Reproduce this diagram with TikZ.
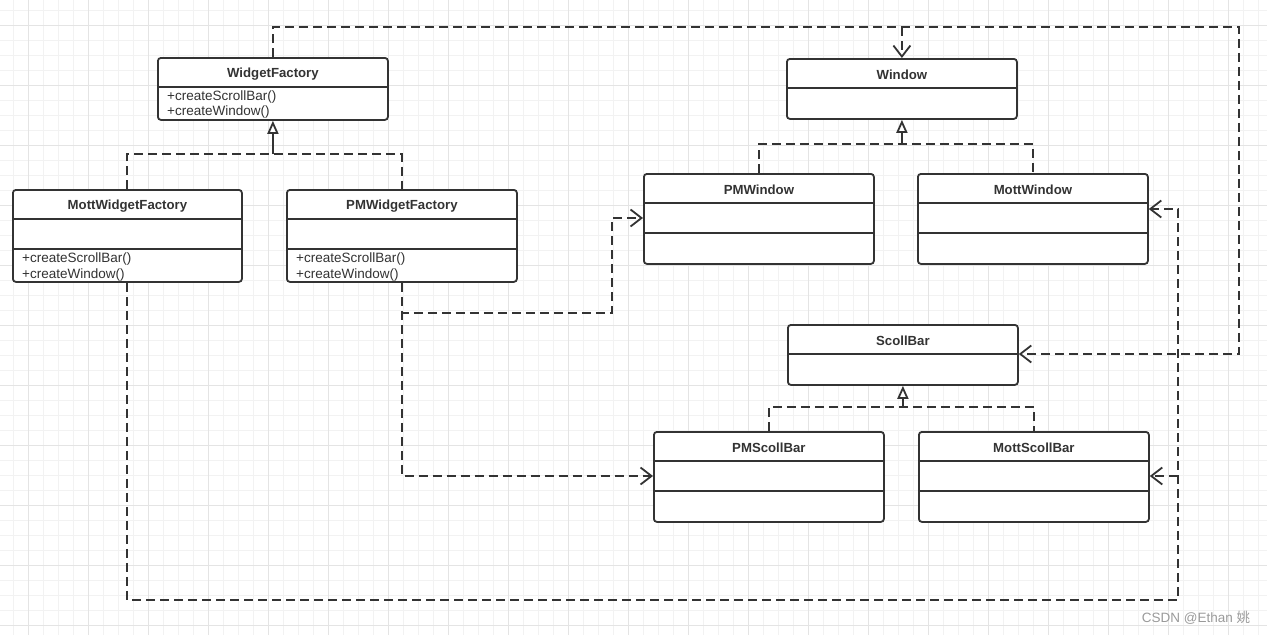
\documentclass[tikz,border=0pt]{standalone}
\usepackage{fontspec}
\setmainfont{Liberation Sans}
\newfontfamily\cjkfont{Noto Sans CJK SC}
\usetikzlibrary{arrows.meta,calc}
\definecolor{ink}{HTML}{333333}
\definecolor{gridminor}{HTML}{F2F2F2}
\definecolor{gridmajor}{HTML}{E4E4E4}
\definecolor{wm}{HTML}{9A9A9A}
\tikzset{
  cls/.style={draw=ink, line width=1.8pt, rounded corners=3pt, fill=white, inner sep=0pt, anchor=north west},
  sepline/.style={draw=ink, line width=1.8pt},
  ctitle/.style={font=\fontsize{13.2}{15}\selectfont\bfseries, text=ink, inner sep=0pt},
  meth/.style={font=\fontsize{13.5}{15}\selectfont, text=ink, inner sep=0pt, anchor=west},
  dashline/.style={draw=ink, line width=2pt, dash pattern=on 9pt off 5pt},
  dep/.style={dashline, -{Straight Barb[length=11pt,width=17pt,line width=1.8pt]}},
  inh/.style={draw=ink, line width=2pt, -{Triangle[open,length=13pt,width=11pt,fill=white,line width=1.8pt]}},
}
\begin{document}
\begin{tikzpicture}[x=1pt,y=-1pt]
\useasboundingbox (0,0) rectangle (1267,635);
% grid
\begin{scope}
\clip (0,0) rectangle (1267,635);
\foreach \i in {0,...,85} {\draw[gridminor, line width=1pt] ({-1.7+15*\i},0) -- ({-1.7+15*\i},635);}
\foreach \i in {0,...,43} {\draw[gridminor, line width=1pt] (0,{-5+15*\i}) -- (1267,{-5+15*\i});}
\foreach \i in {0,...,21} {\draw[gridmajor, line width=1pt] ({28.3+60*\i},0) -- ({28.3+60*\i},635);}
\foreach \i in {0,...,10} {\draw[gridmajor, line width=1pt] (0,{25+60*\i}) -- (1267,{25+60*\i});}
\end{scope}

\coordinate (tR) at (1239,27);
\coordinate (bot) at (0,600);
\coordinate (mx) at (1178,0);
\coordinate (px) at (612,0);
\coordinate (h1) at (0,154);
\coordinate (h2) at (0,144);
\coordinate (h3) at (0,407);

% classes
\node[cls, minimum width=230pt, minimum height=62pt] (wf) at (157,57) {};
\node[cls, minimum width=229pt, minimum height=92pt] (mwf) at (12,189) {};
\node[cls, minimum width=230pt, minimum height=92pt] (pwf) at (286,189) {};
\node[cls, minimum width=230pt, minimum height=60pt] (win) at (786,58) {};
\node[cls, minimum width=230pt, minimum height=90pt] (pmw) at (643,173) {};
\node[cls, minimum width=230pt, minimum height=90pt] (mw) at (917,173) {};
\node[cls, minimum width=230pt, minimum height=60pt] (sb) at (787,324) {};
\node[cls, minimum width=230pt, minimum height=90pt] (psb) at (653,431) {};
\node[cls, minimum width=230pt, minimum height=90pt] (msb) at (918,431) {};

% separators
\foreach \n in {wf,win,sb} {
  \draw[sepline] ($(\n.north west)+(0,30)$) -- ($(\n.north east)+(0,30)$);
}
\foreach \n in {mwf,pwf,pmw,mw,psb,msb} {
  \draw[sepline] ($(\n.north west)+(0,30)$) -- ($(\n.north east)+(0,30)$);
  \draw[sepline] ($(\n.north west)+(0,60)$) -- ($(\n.north east)+(0,60)$);
}

% titles
\node[ctitle] (wf-t) at ($(wf.north)+(0,17)$) {WidgetFactory};
\node[ctitle] (mwf-t) at ($(mwf.north)+(0,17)$) {MottWidgetFactory};
\node[ctitle] (pwf-t) at ($(pwf.north)+(0,17)$) {PMWidgetFactory};
\node[ctitle] (win-t) at ($(win.north)+(0,17)$) {Window};
\node[ctitle] (pmw-t) at ($(pmw.north)+(0,17)$) {PMWindow};
\node[ctitle] (mw-t) at ($(mw.north)+(0,17)$) {MottWindow};
\node[ctitle] (sb-t) at ($(sb.north)+(0,17)$) {ScollBar};
\node[ctitle] (psb-t) at ($(psb.north)+(0,17)$) {PMScollBar};
\node[ctitle] (msb-t) at ($(msb.north)+(0,17)$) {MottScollBar};

% methods
\node[meth] (wf-m1) at ($(wf.north west)+(10,40)$) {+createScrollBar()};
\node[meth] (wf-m2) at ($(wf.north west)+(10,55)$) {+createWindow()};
\node[meth] (mwf-m1) at ($(mwf.north west)+(10,70)$) {+createScrollBar()};
\node[meth] (mwf-m2) at ($(mwf.north west)+(10,86)$) {+createWindow()};
\node[meth] (pwf-m1) at ($(pwf.north west)+(10,70)$) {+createScrollBar()};
\node[meth] (pwf-m2) at ($(pwf.north west)+(10,86)$) {+createWindow()};

% anchor points for arrows
\coordinate (sbE) at ($(sb.north east)+(0,30)$);
\coordinate (mwE) at ($(mw.north east)+(0,36)$);
\coordinate (msbE) at ($(msb.north east)+(0,45)$);
\coordinate (pmwW) at ($(pmw.north west)+(0,45)$);
\coordinate (psbW) at ($(psb.north west)+(0,45)$);

% WidgetFactory dependencies
\draw[dep] (wf.north) |- (tR) |- (sbE);
\draw[dep] (win.north |- tR) -- (win.north);

% Mott dependencies
\draw[dep] (mwf.south) |- (mx |- bot) -- (mx |- mwE) -- (mwE);
\draw[dep] (mx |- msbE) -- (msbE);

% PM dependencies
\draw[dep] (pwf.south) -- ++(0,30) -| (px |- pmwW) -- (pmwW);
\draw[dep] (pwf.south) |- (psbW);

% inheritance
\draw[dashline] (mwf.north) |- (pwf.north |- h1) -- (pwf.north);
\draw[inh] (wf.south |- h1) -- (wf.south);

\draw[dashline] (pmw.north) |- (mw.north |- h2) -- (mw.north);
\draw[inh] (win.south |- h2) -- (win.south);

\draw[dashline] (psb.north) |- (msb.north |- h3) -- (msb.north);
\draw[inh] (sb.south |- h3) -- (sb.south);

% watermark
\node[text=wm, font=\fontsize{13.5}{15}\selectfont, inner sep=0pt] (wmk) at (1196,618) {CSDN @Ethan {\cjkfont 姚}};
\end{tikzpicture}
\end{document}
